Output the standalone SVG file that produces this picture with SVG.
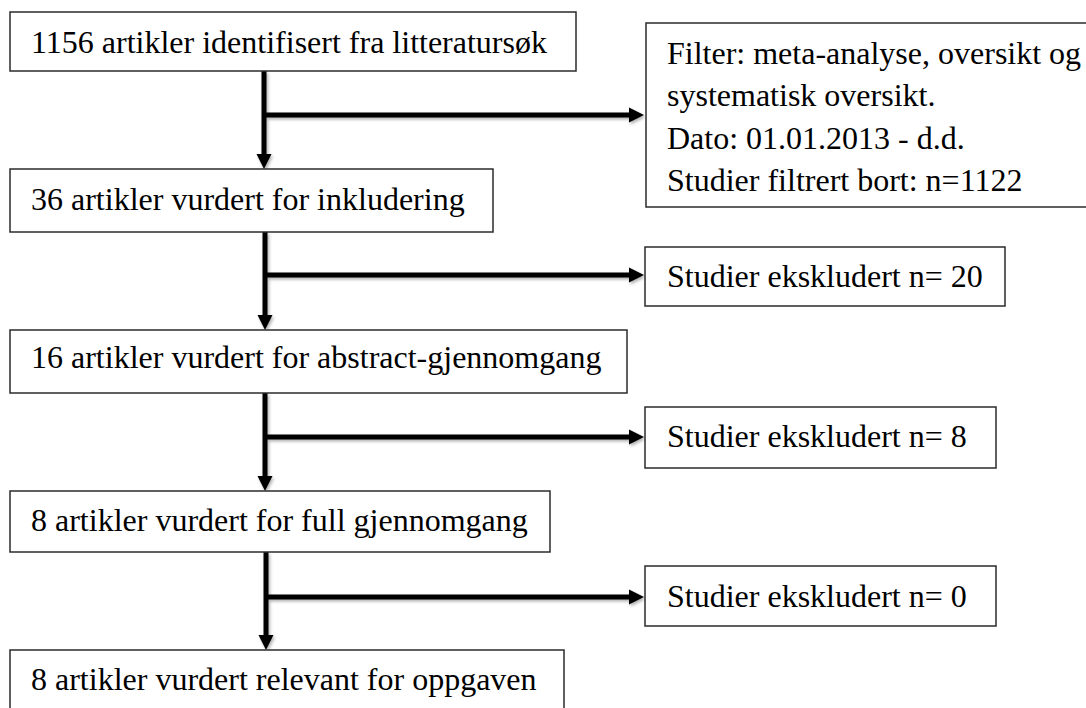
<svg xmlns="http://www.w3.org/2000/svg" width="1086" height="708" viewBox="0 0 1086 708">
<defs>
<style>
.box{fill:#fff;stroke:#2b2b2b;stroke-width:1.5}
.t{font-family:"Liberation Serif","Times New Roman",serif;font-size:32px;fill:#000}
.c{stroke:#000;stroke-width:5;fill:none}
.h{fill:#000}
</style>
<filter id="sh" x="-10%" y="-10%" width="130%" height="130%">
<feDropShadow dx="1.5" dy="2" stdDeviation="1.5" flood-color="#000" flood-opacity="0.3"/>
</filter>
</defs>
<rect width="1086" height="708" fill="#fff"/>
<g id="connectors" filter="url(#sh)">
<line class="c" x1="264" y1="71" x2="264" y2="155"/>
<polygon class="h" points="256.5,154 271.5,154 264,169"/>
<line class="c" x1="264" y1="115" x2="630" y2="115"/>
<polygon class="h" points="629,107.5 629,122.5 644,115"/>
<line class="c" x1="265" y1="232" x2="265" y2="316"/>
<polygon class="h" points="257.5,315 272.5,315 265,330"/>
<line class="c" x1="265" y1="275" x2="630" y2="275"/>
<polygon class="h" points="629,267.5 629,282.5 644,275"/>
<line class="c" x1="265" y1="393" x2="265" y2="477"/>
<polygon class="h" points="257.5,476 272.5,476 265,491"/>
<line class="c" x1="265" y1="437" x2="630" y2="437"/>
<polygon class="h" points="629,429.5 629,444.5 644,437"/>
<line class="c" x1="266" y1="552" x2="266" y2="636"/>
<polygon class="h" points="258.5,635 273.5,635 266,650"/>
<line class="c" x1="266" y1="597" x2="630" y2="597"/>
<polygon class="h" points="629,589.5 629,604.5 644,597"/>
</g>
<g id="n1"><rect class="box" x="10" y="12" width="566" height="59"/><text class="t" x="31" y="53">1156 artikler identifisert fra litteratursøk</text></g>
<g id="filter"><rect class="box" x="646" y="23" width="445" height="184"/>
<text class="t" x="667" y="63.5">Filter: meta-analyse, oversikt og</text>
<text class="t" x="667" y="106">systematisk oversikt.</text>
<text class="t" x="667" y="148.5">Dato: 01.01.2013 - d.d.</text>
<text class="t" x="667" y="191">Studier filtrert bort: n=1122</text></g>
<g id="n2"><rect class="box" x="10" y="169" width="483" height="63"/><text class="t" x="31" y="210">36 artikler vurdert for inkludering</text></g>
<g id="ex1"><rect class="box" x="645" y="247" width="360" height="59"/><text class="t" x="667" y="287">Studier ekskludert n= 20</text></g>
<g id="n3"><rect class="box" x="10" y="330" width="617" height="63"/><text class="t" x="31" y="368">16 artikler vurdert for abstract-gjennomgang</text></g>
<g id="ex2"><rect class="box" x="645" y="407" width="351" height="61"/><text class="t" x="667" y="447">Studier ekskludert n= 8</text></g>
<g id="n4"><rect class="box" x="10" y="491" width="540" height="61"/><text class="t" x="31" y="531">8 artikler vurdert for full gjennomgang</text></g>
<g id="ex3"><rect class="box" x="645" y="566" width="351" height="60"/><text class="t" x="667" y="607">Studier ekskludert n= 0</text></g>
<g id="n5"><rect class="box" x="10" y="650" width="554" height="64"/><text class="t" x="31" y="690">8 artikler vurdert relevant for oppgaven</text></g>
</svg>
